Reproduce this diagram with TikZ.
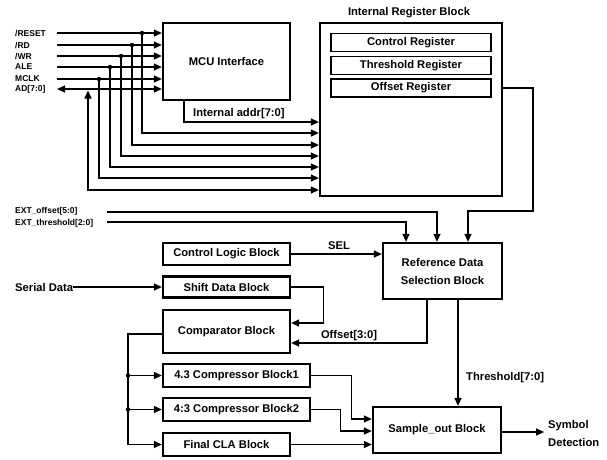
\documentclass[tikz,border=0pt]{standalone}
\usepackage{fontspec}
\setmainfont{Liberation Sans}
\usetikzlibrary{arrows.meta}
\begin{document}
\begin{tikzpicture}[x=1pt,y=-1pt,
 blk/.style={draw, line width=2.3pt, inner sep=0pt, font=\fontsize{11.2}{18}\selectfont\bfseries},
 reg/.style={draw, line width=1.4pt, inner sep=0pt, minimum width=160pt, minimum height=18pt, font=\fontsize{11.2}{14}\selectfont\bfseries},
 sig/.style={anchor=west, inner sep=0pt, font=\fontsize{8.5}{10}\selectfont\bfseries},
 lbl/.style={inner sep=0pt, font=\fontsize{11.2}{14}\selectfont\bfseries},
 wire/.style={line width=1.3pt},
 tip/.tip={Triangle[length=8pt,width=7pt]},
 arr/.style={wire, -tip},
 dot/.style={circle, fill, inner sep=0pt, minimum size=4.5pt}]
\useasboundingbox (0,0) rectangle (607,459);

% ---------- blocks ----------
\node[blk, minimum width=127pt, minimum height=77pt] (mcu) at (226.5,61.5) {MCU Interface};
\node[blk, minimum width=182pt, minimum height=173pt] (irb) at (411,109.5) {};
\node[lbl] (irbt) at (409,13) {Internal Register Block};
\node[reg] (creg) at (411,42.5) {Control Register};
\node[reg] (treg) at (411,65.5) {Threshold Register};
\node[reg] (oreg) at (411,88) {Offset Register};

\node[blk, minimum width=119pt, minimum height=56pt, align=center] (ref) at (442.5,271) {Reference Data\\Selection Block};
\node[blk, minimum width=127pt, minimum height=22pt] (clb) at (226.5,254) {Control Logic Block};
\node[blk, minimum width=127pt, minimum height=21pt] (sdb) at (226.5,287) {Shift Data Block};
\node[blk, minimum width=127pt, minimum height=43pt] (cmp) at (226.5,331.5) {Comparator Block};
\node[blk, minimum width=147pt, minimum height=23pt] (c1) at (236.5,375.5) {4.3 Compressor Block1};
\node[blk, minimum width=147pt, minimum height=23pt] (c2) at (236.5,409.5) {4:3 Compressor Block2};
\node[blk, minimum width=127pt, minimum height=23pt] (cla) at (226.5,444.5) {Final CLA Block};
\node[blk, minimum width=128pt, minimum height=46pt] (smp) at (437,430) {Sample\_out Block};

% ---------- MCU signals ----------
\node[sig] (l1) at (15,33) {/RESET};
\node[sig] (l2) at (15,45) {/RD};
\node[sig] (l3) at (15,56) {/WR};
\node[sig] (l4) at (15,67) {ALE};
\node[sig] (l5) at (15,79) {MCLK};
\node[sig] (l6) at (15,89) {AD[7:0]};

\coordinate (s1) at (57,33);
\coordinate (s2) at (57,45);
\coordinate (s3) at (57,56);
\coordinate (s4) at (57,67);
\coordinate (s5) at (57,79);
\coordinate (s6) at (57,89);

\draw[arr] (s1) -- (s1 -| mcu.west);
\draw[arr] (s2) -- (s2 -| mcu.west);
\draw[arr] (s3) -- (s3 -| mcu.west);
\draw[arr] (s4) -- (s4 -| mcu.west);
\draw[arr] (s5) -- (s5 -| mcu.west);
\draw[wire, tip-tip] (s6) -- (s6 -| mcu.west);

\node[dot] (d1) at (142,33) {};
\node[dot] (d2) at (132,45) {};
\node[dot] (d3) at (121,56) {};
\node[dot] (d4) at (110,67) {};
\node[dot] (d5) at (99,79) {};
\coordinate (d6) at (88,90.5);

\coordinate (y0) at (0,122);
\coordinate (y1) at (0,133);
\coordinate (y2) at (0,145);
\coordinate (y3) at (0,156);
\coordinate (y4) at (0,167);
\coordinate (y5) at (0,178);
\coordinate (y6) at (0,190);

\draw[arr] ([xshift=-42.5pt]mcu.south) |- (irb.west |- y0);
\node[lbl, anchor=west] (lia) at (193,114) {Internal addr[7:0]};
\draw[arr] (d1.center) |- (irb.west |- y1);
\draw[arr] (d2.center) |- (irb.west |- y2);
\draw[arr] (d3.center) |- (irb.west |- y3);
\draw[arr] (d4.center) |- (irb.west |- y4);
\draw[arr] (d5.center) |- (irb.west |- y5);
\draw[wire, tip-tip] (d6) |- (irb.west |- y6);

% ---------- reference selection inputs ----------
\node[sig] (lexo) at (15,211) {EXT\_offset[5:0]};
\node[sig] (lext) at (15,223) {EXT\_threshold[2:0]};
\coordinate (exo) at (107,212);
\coordinate (ext) at (107,222);
\draw[arr] (exo) -| ([xshift=-5.5pt]ref.north);
\draw[arr] (ext) -| ([xshift=-36.5pt]ref.north);
\coordinate (obend) at (533,211);
\draw[arr] (irb.east |- oreg) -| (obend) -| ([xshift=25.5pt]ref.north);

\draw[arr] (clb.east) -- (clb.east -| ref.west);
\node[lbl] (lsel) at (339,246) {SEL};

% ---------- data path ----------
\node[lbl, anchor=west] (lsd) at (15,287) {Serial Data};
\draw[arr] (lsd.east) -- (sdb.west);
\draw[arr] (sdb.east) -- ++(32,0) |- ([yshift=8.5pt]cmp.east);
\draw[arr] ([xshift=-15.5pt]ref.south) |- ([yshift=-11.5pt]cmp.east);
\node[lbl] (loff) at (349,336) {Offset[3:0]};
\draw[arr] ([xshift=15.5pt]ref.south) -- ([xshift=15.5pt]ref.south |- smp.north);
\node[lbl, anchor=west] (lthr) at (466,378) {Threshold[7:0]};

\coordinate (bend) at (128,0);
\draw[arr] ([yshift=-2.5pt]cmp.west) -| (bend |- cla.west) -- (cla.west);
\node[dot] (b1) at (bend |- c1.west) {};
\node[dot] (b2) at (bend |- c2.west) {};
\draw[arr] (b1) -- (c1.west);
\draw[arr] (b2) -- (c2.west);

\draw[arr] (c1.east) -- ++(40,0) |- ([yshift=11pt]smp.west);
\draw[arr] (c2.east) -- ++(29,0) |- ([yshift=-1pt]smp.west);
\draw[arr] (cla.east) -- (cla.east -| smp.west);

\draw[arr] ([yshift=-2pt]smp.east) -- ++(42,0) coordinate (out);
\node[lbl, anchor=west, align=left, font=\fontsize{11.2}{18}\selectfont\bfseries] (lsym) at (548,433) {Symbol\\Detection};
\end{tikzpicture}
\end{document}
